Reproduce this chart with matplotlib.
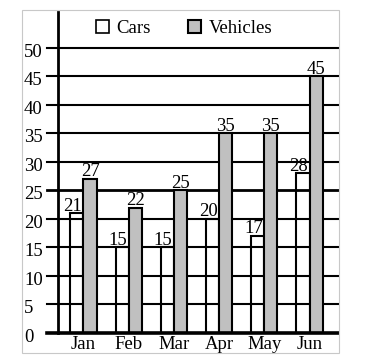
import matplotlib
matplotlib.use('Agg')
import matplotlib.pyplot as plt
import matplotlib.transforms as mtransforms
from matplotlib.patches import Rectangle, Patch
import numpy as np

months = ['Jan', 'Feb', 'Mar', 'Apr', 'May', 'Jun']
cars = [21, 15, 15, 20, 17, 28]
vehicles = [27, 22, 25, 35, 35, 45]
yticks = [0, 5, 10, 15, 20, 25, 30, 35, 40, 45, 50]

plt.rcParams['font.family'] = ['Liberation Serif', 'DejaVu Serif']
fs = 13.5

fig = plt.figure(figsize=(3.65, 3.61), dpi=100)
# faint frame round the whole chart
fig.patches.append(Rectangle((22/365, 1-353/361), 317/365, 343/361,
                             transform=fig.transFigure, fill=False,
                             edgecolor='#c8c8c8', lw=0.8))
ax = fig.add_axes([58/365, 1-333/361, 280/365, 321/361])

x = np.arange(len(months))
w = 0.29

# grid lines (start at the tick, left of the axis)
for t in yticks[1:]:
    ax.axhline(t, xmin=-11/280, xmax=1, color='black',
               lw=2.0 if t == 25 else 1.5, zorder=1, clip_on=False)
ax.axhline(0, xmin=-11/280, xmax=1, color='black', lw=2.6,
           zorder=5, clip_on=False)

ax.bar(x - w/2, cars, w, facecolor='none', edgecolor='black', lw=1.5,
       zorder=2, label='Cars')
ax.bar(x + w/2, vehicles, w, facecolor='#c0c0c0', edgecolor='black', lw=1.5,
       zorder=3, label='Vehicles')

for xi, c, v in zip(x, cars, vehicles):
    ax.annotate(str(c), (xi - w/2, c), xytext=(-3, -1), textcoords='offset points',
                ha='center', va='bottom', fontsize=fs)
    ax.annotate(str(v), (xi + w/2, v), xytext=(0, -1), textcoords='offset points',
                ha='center', va='bottom', fontsize=fs)

ax.set_xlim(-0.564, 5.63)
ax.set_ylim(0, 56.3)
ax.set_yticks(yticks)
ax.set_yticklabels([])
trans = mtransforms.blended_transform_factory(ax.transAxes, ax.transData)
for t in yticks:
    ax.annotate(str(t), (-34/280, t), xycoords=trans, xytext=(0, -1.5),
                textcoords='offset points', ha='left', va='center_baseline',
                fontsize=fs, annotation_clip=False)
ax.set_xticks(x)
ax.set_xticklabels(months, fontsize=fs)
ax.tick_params(axis='y', length=0)
ax.tick_params(axis='x', length=0, pad=2)

for s in ['top', 'right', 'bottom']:
    ax.spines[s].set_visible(False)
ax.spines['left'].set_linewidth(2)
ax.spines['left'].set_zorder(6)

handles = [Patch(facecolor='white', edgecolor='black', lw=1.2, label='Cars'),
           Patch(facecolor='#c0c0c0', edgecolor='black', lw=1.5, label='Vehicles')]
ax.legend(handles=handles, ncol=2, frameon=False, fontsize=fs,
          loc='upper left', bbox_to_anchor=(30/280, 1.0),
          handlelength=0.7, handleheight=0.75, handletextpad=0.4,
          columnspacing=2.0, borderaxespad=0)

fig.savefig('out.png', dpi=100)
